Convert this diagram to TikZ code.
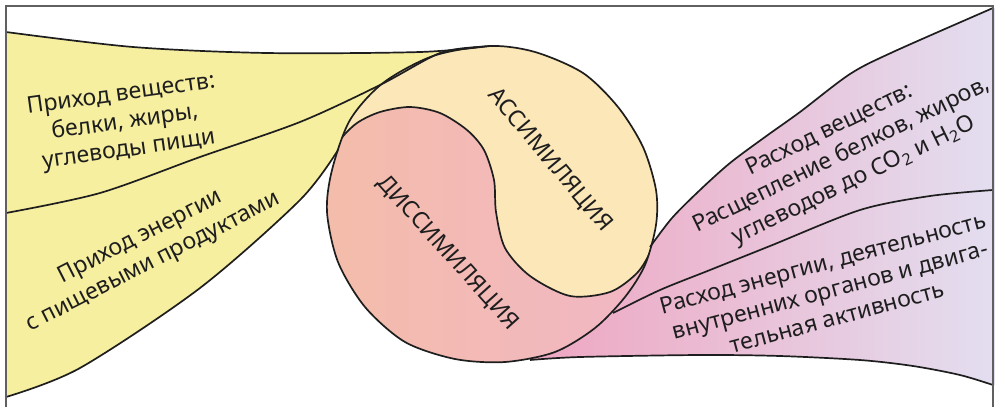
\documentclass[tikz,border=0pt]{standalone}
\usepackage{fontspec}
\setmainfont{Noto Sans}
\definecolor{ink}{HTML}{1E1E1E}
\definecolor{frameg}{HTML}{606060}
\definecolor{lemon}{HTML}{F7EFA0}
\definecolor{cream}{HTML}{FBE7B8}
\definecolor{salmon}{HTML}{F4BDA7}
\definecolor{rosy}{HTML}{F1B6CA}
\definecolor{rosyband}{HTML}{EFA6C1}
\definecolor{lilac}{HTML}{E3DEF0}
\tikzset{
  contour/.style={draw=ink, line width=1.7pt},
  lbl/.style={text=ink, align=center, font=\fontsize{23}{28}\selectfont, inner sep=0pt},
  proc/.style={text=ink, font=\fontsize{23}{23}\selectfont, inner sep=0pt},
}
\def\bodypath{plot[smooth cycle] coordinates {(490,46) (535,52) (583,73) (618,107) (643,147)
  (656,190) (656,225) (645,265) (625,297) (595,328) (555,352) (505,362) (455,359)
  (405,342) (365,307) (338,262) (327,212) (332,170) (350,120) (383,83) (433,56)}}
\begin{document}
\begin{tikzpicture}[x=1pt,y=-1pt]
  \useasboundingbox (0,0) rectangle (995,407);
  % bands coming in (left) and going out (right)
  \fill[lemon] plot[smooth] coordinates {(6,32) (133,47) (267,53) (420,52) (490,46)}
    -- (500,200) -- (332,170)
    -- plot[smooth] coordinates {(338,150) (300,200) (200,288) (80,368) (6,397)} -- cycle;
  \shade[left color=rosyband, right color=lilac]
    plot[smooth] coordinates {(650,247) (672,218) (700,190) (730,163) (765,137) (800,112) (850,74) (893,52) (995,8)}
    -- (995,386)
    -- plot[smooth] coordinates {(995,385) (960,375) (913,366) (860,360) (780,356) (700,355) (580,357) (530,360)}
    -- (560,250) -- cycle;
  % metabolism body
  \fill[cream] \bodypath;
  \begin{scope}
    \clip \bodypath;
    \shade[left color=salmon, middle color=salmon, right color=rosy]
      plot[smooth] coordinates {(330,160) (340,140) (357,123) (380,112) (410,107) (440,113) (467,130)
        (484,150) (494,180) (496,212) (505,248) (530,276) (570,296) (610,292) (637,273) (651,250) (658,222)}
      -- (700,222) -- (700,420) -- (300,420) -- (300,160) -- cycle;
    \draw[contour] plot[smooth] coordinates {(330,160) (340,140) (357,123) (380,112) (410,107) (440,113) (467,130)
        (484,150) (494,180) (496,212) (505,248) (530,276) (570,296) (610,292) (637,273) (651,250) (658,222)};
  \end{scope}
  \draw[contour] \bodypath;
  % band borders
  \draw[contour] plot[smooth] coordinates {(6,32) (133,47) (267,53) (420,52) (490,46)};
  \draw[contour] plot[smooth] coordinates {(6,213) (100,193) (200,157) (300,122) (380,85) (440,53) (480,47)};
  \draw[contour] plot[smooth] coordinates {(6,397) (80,368) (200,288) (300,200) (338,150)};
  \draw[contour] plot[smooth] coordinates {(650,247) (672,218) (700,190) (730,163) (765,137) (800,112) (850,74) (893,52) (993,8)};
  \draw[contour] plot[smooth] coordinates {(613,313) (660,290) (710,270) (770,246) (860,210) (930,196) (993,190)};
  \draw[contour] plot[smooth] coordinates {(530,360) (580,357) (700,355) (780,356) (860,360) (913,366) (960,375) (993,385)};
  % frame
  \draw[frameg, line width=1.5pt] (6,407) -- (6,6) -- (993,6) -- (993,407);
  % labels
  \node[lbl, rotate=8] (inSubst) at (125,123) {Приход веществ:\\белки, жиры,\\углеводы пищи};
  \node[lbl, rotate=27] (inEnergy) at (147,250) {Приход энергии\\с пищевыми продуктами};
  \node[lbl, rotate=26] (outSubst) at (842,156) {Расход веществ:\\Расщепление белков, жиров,\\углеводов до CO\textsubscript{2} и H\textsubscript{2}O};
  \node[lbl, rotate=15] (outEnergy) at (830,290) {Расход энергии, деятельность\\внутренних органов и двига-\\тельная активность};
  \node[proc, rotate=-50] (assim) at (550,160) {АССИМИЛЯЦИЯ};
  \node[proc, rotate=-48] (dissim) at (448,253) {ДИССИМИЛЯЦИЯ};
\end{tikzpicture}
\end{document}
